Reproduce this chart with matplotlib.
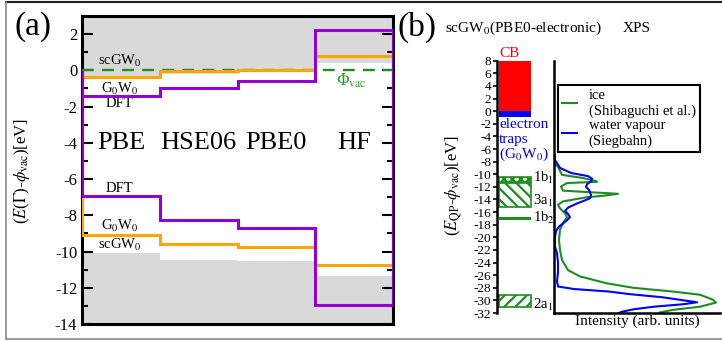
import matplotlib
matplotlib.use("Agg")
import matplotlib.pyplot as plt
from matplotlib.lines import Line2D
from matplotlib.patches import Rectangle

plt.rcParams["font.family"] = ["Liberation Serif", "DejaVu Serif"]
plt.rcParams["mathtext.fontset"] = "stix"
plt.rcParams["axes.unicode_minus"] = False
plt.rcParams["hatch.linewidth"] = 1.6

# --- panel (a): band edges for each functional ---
functionals = ["PBE", "HSE06", "PBE0", "HF"]
edges = [0, 1, 2, 3, 4]

cb_dft = [-1.44, -0.98, -0.61, 2.22]
cb_g0w0 = [-0.37, -0.04, 0.04, 0.79]
cb_scgw0 = [-0.45, -0.18, -0.10, 0.41]

vb_dft = [-6.91, -8.26, -8.70, -12.96]
vb_g0w0 = [-9.07, -9.59, -9.74, -10.76]
vb_scgw0 = [-10.09, -10.46, -10.52, -11.35]

# --- panel (b): scGW0 levels and XPS spectra ---
cb_range = (0.0, 8.0)
trap_range = (-0.9, 0.0)
orbitals = ["1b$_1$", "3a$_1$", "1b$_2$", "2a$_1$"]
orbital_top = [-10.38, -11.43, -16.80, -29.10]
orbital_bottom = [-11.17, -15.13, -17.20, -31.00]
orbital_hatch = ["xxxx", "\\\\\\", "", "///"]
orbital_label_y = [-10.6, -14.2, -16.9, -30.7]

ice_energy = [-8.5, -8.8, -9.5, -10.1, -10.6, -11.0, -11.2, -11.4, -11.95, -12.6,
              -12.85, -13.1, -13.4, -13.65, -14.3, -14.85, -15.4, -16.2, -16.8,
              -17.8, -18.8, -20.4, -22.0, -23.6, -25.2, -26.2, -27.3, -28.0,
              -28.6, -29.1, -29.9, -30.35, -31.0, -31.5, -31.9]
ice_intensity = [1.5, 4, 6, 8, 29, 40, 43, 13, 7, 9,
                 36, 64, 50, 33, 9, 4, 6, 11, 13,
                 9, 6, 5, 6, 8, 14, 26, 53, 79,
                 119, 146, 159, 162, 146, 119, 106]

vapour_energy = [-6.5, -7.75, -9.0, -9.8, -10.3, -10.7, -11.1, -11.6, -12.0, -12.5,
                 -13.3, -13.8, -14.2, -14.7, -15.3, -15.8, -16.3, -16.8, -17.3,
                 -17.8, -18.3, -19.0, -20.0, -21.5, -22.5, -24.0, -25.5, -27.0,
                 -27.8, -28.2, -28.6, -29.0, -29.5, -30.0, -30.3, -30.6, -31.0,
                 -31.4, -31.8, -32.0]
vapour_intensity = [0, 1, 6, 17, 34, 38, 37, 33, 32, 35,
                    37, 36, 30, 22, 14, 11, 14, 16, 13,
                    9, 5, 2, 1, 1, 3, 4, 4, 3,
                    4, 20, 55, 75, 108, 130, 143, 130, 100,
                    80, 68, 65]

purple = "#9400d3"
orange = "#ffa500"
grey = "#d9d9d9"
green = "#1e8c1e"

W, H = 722, 342
fig = plt.figure(figsize=(W / 100, H / 100), dpi=100)


def px_axes(x0, y0, x1, y1):
    return fig.add_axes([x0 / W, 1 - y1 / H, (x1 - x0) / W, (y1 - y0) / H])


# ---------------- panel (a) ----------------
ax = px_axes(82, 16, 393, 324)
ax.set_xlim(0, 4)
ax.set_ylim(-14, 3)

ax.stairs(cb_scgw0, edges, baseline=3, fill=True, color=grey, lw=0)
ax.stairs(vb_scgw0, edges, baseline=-14, fill=True, color=grey, lw=0)
ax.axhline(0, color=green, lw=1.7, ls=(0, (5, 3.5)), zorder=3)
ax.stairs(cb_g0w0, edges, color=orange, lw=2.2, zorder=4)
ax.stairs(vb_g0w0, edges, color=orange, lw=2.2, zorder=4)
ax.stairs(cb_dft, edges, color=purple, lw=2.2, zorder=5)
ax.stairs(vb_dft, edges, color=purple, lw=2.2, zorder=5)

for i, name in enumerate(functionals):
    ax.text(i + 0.5, -4.0, name, fontsize=19, ha="center", va="center")

small = dict(fontsize=10.5, ha="center", va="center")
ax.text(0.49, 0.5, "scGW$_0$", **small)
ax.text(0.48, -1.0, "G$_0$W$_0$", **small)
ax.text(0.48, -1.85, "DFT", **small)
ax.text(0.48, -6.5, "DFT", **small)
ax.text(0.48, -8.6, "G$_0$W$_0$", **small)
ax.text(0.49, -9.65, "scGW$_0$", **small)
ax.text(3.46, -0.6, r"$\Phi_{\rm vac}$", color="#2ca02c", fontsize=12,
        ha="center", va="center")

ax.set_yticks(range(-14, 3, 2))
ax.set_yticks(range(-13, 3, 2), minor=True)
ax.set_xticks([])
ax.tick_params(axis="y", which="both", direction="in", left=True, right=True,
               width=1.5, labelsize=12)
ax.tick_params(axis="y", which="major", length=8)
ax.tick_params(axis="y", which="minor", length=4.5)
for sp in ax.spines.values():
    sp.set_linewidth(2.2)

# ---------------- panel (b), level diagram ----------------
axl = px_axes(497, 60.7, 537, 313)
axl.set_xlim(0, 40)
axl.set_ylim(-32, 8)
axl.add_patch(Rectangle((2, cb_range[0]), 32, cb_range[1] - cb_range[0],
                        color="#ff0000", lw=0))
axl.add_patch(Rectangle((2, trap_range[0]), 32, trap_range[1] - trap_range[0],
                        color="#0000ff", lw=0))
for top, bot, hatch, lab, ly in zip(orbital_top, orbital_bottom, orbital_hatch,
                                    orbitals, orbital_label_y):
    if hatch:
        axl.add_patch(Rectangle((2, bot), 32, top - bot, facecolor="white",
                                edgecolor=green, hatch=hatch, lw=1.2))
    else:
        axl.add_patch(Rectangle((2, bot), 32, top - bot, color=green, lw=0))
    axl.text(36, ly, lab, fontsize=10.5, ha="left", va="center", clip_on=False)

axl.text(2.5, 8.1, "CB", color="#ff0000", fontsize=11, ha="left", va="bottom")
blue_txt = dict(color="#0000ff", fontsize=11, ha="left", va="center")
axl.text(2, -2.1, "electron", **blue_txt)
axl.text(2, -4.5, "traps", **blue_txt)
axl.text(2, -6.9, "(G$_0$W$_0$)", **blue_txt)

axl.set_yticks(range(-32, 9, 2))
axl.set_xticks([])
axl.tick_params(axis="y", direction="out", length=3, width=1.2, labelsize=9.5,
                pad=1)
for side in ["top", "right", "bottom"]:
    axl.spines[side].set_visible(False)
axl.spines["left"].set_linewidth(1.8)

# ---------------- panel (b), XPS spectra ----------------
axr = px_axes(554, 60.7, 720, 313)
axr.set_xlim(0, 166)
axr.set_ylim(-32, 8)
axr.plot(ice_intensity, ice_energy, color=green, lw=1.5,
         label="ice\n(Shibaguchi et al.)")
axr.plot(vapour_intensity, vapour_energy, color="#0000ff", lw=1.5,
         label="water vapour\n(Siegbahn)")
axr.set_xticks([])
axr.set_yticks([])
for side in ["top", "right"]:
    axr.spines[side].set_visible(False)
axr.spines["left"].set_linewidth(1.8)
axr.spines["bottom"].set_linewidth(1.8)
axr.set_xlabel("Intensity (arb. units)", fontsize=11, labelpad=1)
leg = axr.legend(loc="upper left", bbox_to_anchor=(0.024, 0.904), fontsize=10.5,
                 fancybox=False, framealpha=1, edgecolor="black",
                 handlelength=1.0, handletextpad=0.8, borderpad=0.3,
                 labelspacing=0.1, borderaxespad=0)
leg.get_frame().set_linewidth(1.5)

# ---------------- figure labels ----------------
fig.text(15 / W, 1 - 27 / H, "(a)", fontsize=24, ha="left", va="center")
fig.text(398 / W, 1 - 27 / H, "(b)", fontsize=24, ha="left", va="center")
fig.text(445 / W, 1 - 28 / H, "scGW$_0$(PBE0-electronic)", fontsize=11,
         ha="left", va="center")
fig.text(623 / W, 1 - 28 / H, "XPS", fontsize=11, ha="left", va="center")
fig.text(22 / W, 1 - 171 / H, r"($E$($\Gamma$)-$\phi_{\rm vac}$)[eV]",
         fontsize=12, rotation=90, ha="center", va="center")
fig.text(454 / W, 1 - 186 / H, r"($E_{\rm QP}$-$\phi_{\rm vac}$)[eV]",
         fontsize=12, rotation=90, ha="center", va="center")

# outer frame
fig.add_artist(Line2D([6 / W, 1], [1 - 1.5 / H] * 2, color="#222222", lw=1.5,
                      transform=fig.transFigure))
fig.add_artist(Line2D([6 / W] * 2, [1 - 339 / H, 1 - 1.5 / H], color="#888888",
                      lw=1.2, transform=fig.transFigure))
fig.add_artist(Line2D([6 / W, 1], [1 - 339 / H] * 2, color="#888888", lw=1.2,
                      transform=fig.transFigure))

fig.savefig("out.png", dpi=100)
